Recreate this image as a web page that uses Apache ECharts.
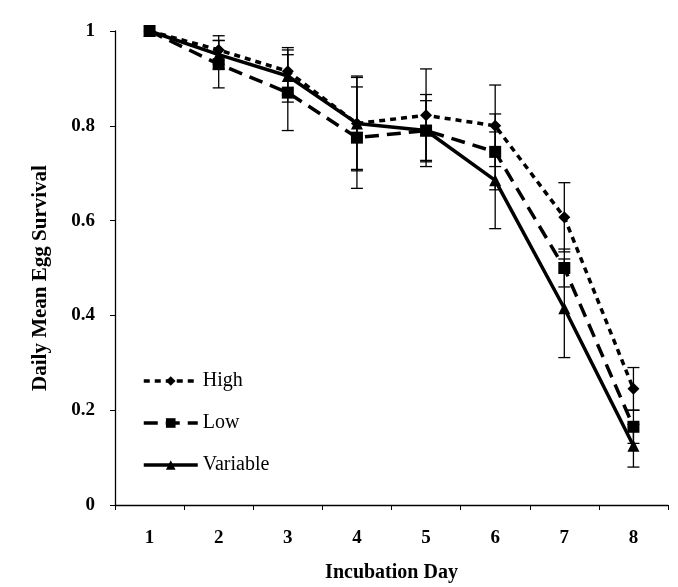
<!DOCTYPE html>
<html>
<head>
<meta charset="utf-8">
<script src="https://cdn.jsdelivr.net/npm/echarts@6/dist/echarts.min.js"></script>
<style>
  html, body { margin: 0; padding: 0; background: #fff; }
  #chart { width: 678px; height: 587px; }
</style>
</head>
<body>
<div id="chart"></div>
<script>
var days = ['1', '2', '3', '4', '5', '6', '7', '8'];

var highMean = [1, 0.96, 0.915, 0.805, 0.822, 0.80, 0.607, 0.245];
var highErr  = [0, 0.03, 0.05, 0.10, 0.098, 0.086, 0.073, 0.045];

var lowMean  = [1, 0.93, 0.87, 0.775, 0.79, 0.745, 0.50, 0.165];
var lowErr   = [0, 0.05, 0.08, 0.107, 0.063, 0.08, 0.04, 0.035];

var varMean  = [1, 0.95, 0.905, 0.805, 0.79, 0.685, 0.415, 0.125];
var varErr   = [0, 0.03, 0.055, 0.097, 0.076, 0.102, 0.104, 0.045];

var font = 'Liberation Serif';

function errData(mean, err) {
    var out = [];
    for (var i = 0; i < mean.length; i++) {
        if (err[i] > 0) out.push([i, mean[i] - err[i], mean[i] + err[i]]);
    }
    return out;
}

function renderErr(params, api) {
    var x = api.value(0);
    var lo = api.coord([x, api.value(1)]);
    var hi = api.coord([x, api.value(2)]);
    var w = 6;
    var st = { stroke: '#000', lineWidth: 1.3 };
    return {
        type: 'group',
        children: [
            { type: 'line', shape: { x1: hi[0], y1: hi[1], x2: lo[0], y2: lo[1] }, style: st },
            { type: 'line', shape: { x1: hi[0] - w, y1: hi[1], x2: hi[0] + w, y2: hi[1] }, style: st },
            { type: 'line', shape: { x1: lo[0] - w, y1: lo[1], x2: lo[0] + w, y2: lo[1] }, style: st }
        ]
    };
}

function errSeries(name, mean, err) {
    return {
        name: name + ' err',
        type: 'custom',
        renderItem: renderErr,
        data: errData(mean, err),
        z: 1,
        silent: true
    };
}

function lineSeries(name, mean, symbol, size, dash) {
    return {
        name: name,
        type: 'line',
        data: mean,
        symbol: symbol,
        symbolSize: size,
        showAllSymbol: true,
        color: '#000',
        itemStyle: { color: '#000' },
        lineStyle: { color: '#000', width: 3.5, type: dash },
        z: 3
    };
}

var chart = echarts.init(document.getElementById('chart'));

var option = {
    animation: false,
    backgroundColor: '#fff',
    grid: { left: 115, right: 10, top: 31, bottom: 82, containLabel: false, outerBoundsMode: 'none' },
    legend: {
        data: ['High', 'Low', 'Variable'],
        orient: 'vertical',
        left: 137,
        top: 366,
        itemWidth: 54,
        itemHeight: 12,
        itemGap: 22,
        lineStyle: { width: 3.5 },
        textStyle: { fontFamily: font, fontSize: 20, color: '#000' }
    },
    xAxis: {
        type: 'category',
        data: days,
        boundaryGap: true,
        name: 'Incubation Day',
        nameLocation: 'middle',
        nameGap: 58,
        nameTextStyle: { fontFamily: font, fontSize: 20, fontWeight: 'bold', color: '#000' },
        axisLine: { lineStyle: { color: '#000', width: 1.3 } },
        axisTick: { show: true, length: 5, lineStyle: { color: '#000' } },
        axisLabel: { fontFamily: font, fontSize: 19, fontWeight: 'bold', color: '#000', margin: 24 }
    },
    yAxis: {
        type: 'value',
        min: 0,
        max: 1,
        interval: 0.2,
        name: 'Daily Mean Egg Survival',
        nameLocation: 'middle',
        nameGap: 64,
        nameTextStyle: { fontFamily: font, fontSize: 21, fontWeight: 'bold', color: '#000', padding: [0, 20, 0, 0] },
        axisLine: { show: true, lineStyle: { color: '#000', width: 1.3 } },
        axisTick: { show: true, length: 5, lineStyle: { color: '#000' } },
        splitLine: { show: false },
        axisLabel: { fontFamily: font, fontSize: 19, fontWeight: 'bold', color: '#000', margin: 20 }
    },
    series: [
        errSeries('High', highMean, highErr),
        errSeries('Low', lowMean, lowErr),
        errSeries('Variable', varMean, varErr),
        lineSeries('High', highMean, 'diamond', 12, [6, 5]),
        lineSeries('Low', lowMean, 'rect', 12, [14, 8]),
        lineSeries('Variable', varMean, 'triangle', 12, 'solid')
    ]
};

chart.setOption(option);
</script>
</body>
</html>
